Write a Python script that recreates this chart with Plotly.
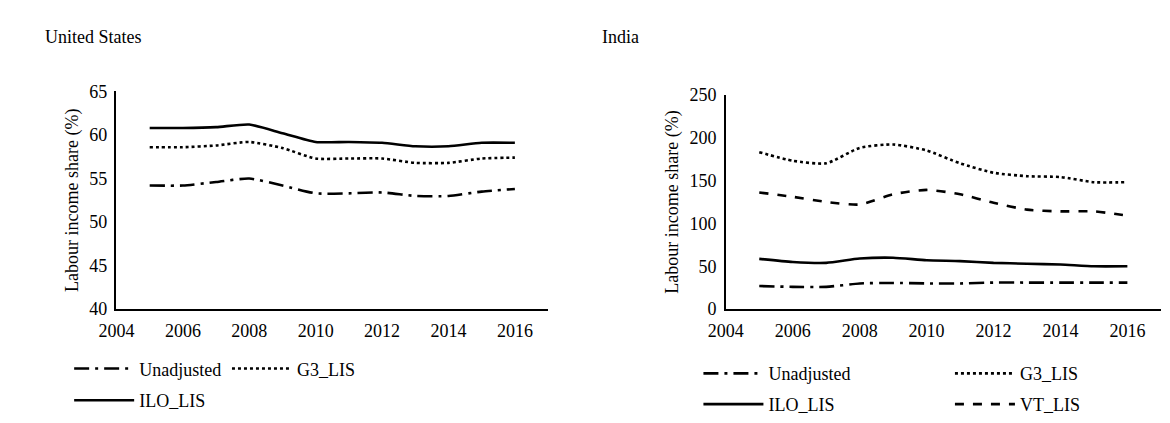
import plotly.graph_objects as go

years = list(range(2005, 2017))
us_unadj = [54.2, 54.2, 54.6, 55.0, 54.2, 53.3, 53.3, 53.4, 53.0, 53.0, 53.5, 53.8]
us_g3 = [58.6, 58.6, 58.8, 59.2, 58.5, 57.3, 57.3, 57.3, 56.8, 56.8, 57.3, 57.4]
us_ilo = [60.8, 60.8, 60.9, 61.2, 60.2, 59.2, 59.2, 59.1, 58.7, 58.7, 59.1, 59.1]
in_unadj = [27, 26, 26, 30, 30.6, 30, 30, 31, 31, 31, 31, 31]
in_g3 = [183, 173, 170, 188, 192, 185, 170, 159, 155, 154, 148, 148]
in_ilo = [58.6, 55, 54, 59, 60, 57, 56, 54, 53, 52, 50, 50]
in_vt = [136, 131, 125, 122, 134, 139, 134, 124, 116, 114, 114, 109]

F = "Times New Roman, Liberation Serif, DejaVu Serif, serif"
W, H = 1170, 423
fig = go.Figure()
leg = dict(orientation="h", font=dict(size=18, family=F, color="black"), bgcolor="rgba(0,0,0,0)",
           yanchor="middle", xanchor="left", itemwidth=60)
legends = {}

def add(x, y, name, dash, xa, ya, lg, px, py):
    fig.add_trace(go.Scatter(x=x, y=y, name=name, mode="lines", xaxis=xa, yaxis=ya, legend=lg,
                             line=dict(color="black", width=2.6, dash=dash, shape="spline", smoothing=0.6)))
    legends[lg] = dict(leg, x=px / W, y=(H - py) / H)

add(years, us_unadj, "Unadjusted", "longdashdot", "x", "y", "legend", 62, 375)
add(years, us_g3, "G3_LIS", "dot", "x", "y", "legend2", 222, 375)
add(years, us_ilo, "ILO_LIS", "solid", "x", "y", "legend3", 62, 408)
add(years, in_unadj, "Unadjusted", "longdashdot", "x2", "y2", "legend4", 700, 380)
add(years, in_g3, "G3_LIS", "dot", "x2", "y2", "legend5", 955, 380)
add(years, in_ilo, "ILO_LIS", "solid", "x2", "y2", "legend6", 700, 412)
add(years, in_vt, "VT_LIS", "dash", "x2", "y2", "legend7", 955, 412)

ax = dict(showline=True, linecolor="black", linewidth=1.5, showgrid=False, zeroline=False,
          ticks="", tickfont=dict(size=18, family=F, color="black"), automargin=False,
          ticklabelstandoff=4)

fig.update_layout(
    autosize=True, margin=dict(l=0, r=0, t=0, b=0, autoexpand=False),
    plot_bgcolor="white", paper_bgcolor="white",
    font=dict(family=F, size=18, color="black"),
    xaxis=dict(ax, domain=[0.094, 0.468], range=[2004, 2017], tickvals=list(range(2004, 2017, 2))),
    yaxis=dict(ax, domain=[0.26, 0.795], range=[40, 65], dtick=5,
               title=dict(text="Labour income share (%)", font=dict(size=18, family=F), standoff=6)),
    xaxis2=dict(ax, domain=[0.622, 0.999], range=[2004, 2017], tickvals=list(range(2004, 2017, 2)), anchor="y2"),
    yaxis2=dict(ax, domain=[0.26, 0.787], range=[0, 250], dtick=50, anchor="x2",
                title=dict(text="Labour income share (%)", font=dict(size=18, family=F), standoff=6)),
    showlegend=True,
    annotations=[
        dict(text="United States", x=35/W, y=(H-30)/H, xref="paper", yref="paper",
             xanchor="left", yanchor="middle", showarrow=False, font=dict(size=18, family=F)),
        dict(text="India", x=600/W, y=(H-30)/H, xref="paper", yref="paper",
             xanchor="left", yanchor="middle", showarrow=False, font=dict(size=18, family=F)),
    ],
    **legends,
)
fig.write_html("out.html")
